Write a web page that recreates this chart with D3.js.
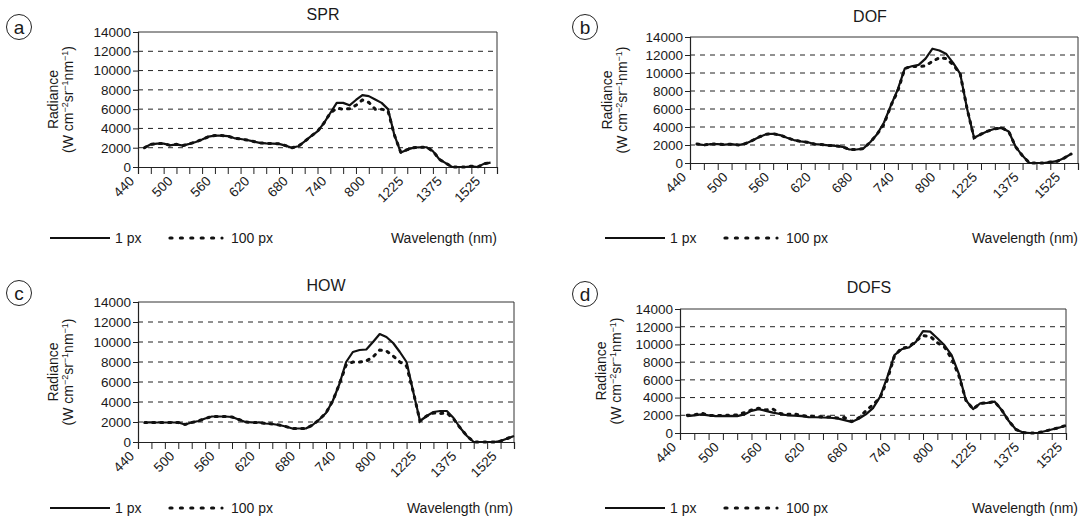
<!DOCTYPE html>
<html><head><meta charset="utf-8">
<script src="https://cdn.jsdelivr.net/npm/d3@7"></script>
<style>
body{margin:0;background:#fff}
text{font-family:"Liberation Sans",Arial,Helvetica,sans-serif;fill:#1a1a1a}
</style>
</head><body>
<svg id="chart" width="1088" height="521"></svg>
<script>
// ---- data ----
const categories = [440,460,480,500,520,540,560,580,600,620,640,660,680,700,720,740,760,780,800,1125,1175,1225,1275,1325,1375,1425,1475,1525,1575];
const labelEvery = 3;
const yTicks = [0,2000,4000,6000,8000,10000,12000,14000];
// sample positions along the category axis (half-category steps)
const samplePos = d3.range(0.5, 28.01, 0.5);

const sprSolid = [2000,2350,2430,2430,2250,2350,2220,2400,2600,2850,3150,3260,3260,3200,3000,2900,2800,2650,2500,2450,2430,2400,2220,2000,2150,2650,3200,3700,4550,5600,6650,6650,6400,6950,7450,7350,7000,6650,6000,3300,1500,1800,2000,2050,2050,1650,800,400,0,0,0,80,0,350,450,null];
const sprDotted = [2000,2350,2430,2430,2250,2350,2220,2400,2600,2850,3150,3260,3260,3200,3000,2900,2800,2650,2500,2450,2430,2400,2220,2000,2150,2650,3200,3700,4550,5600,6100,6000,6050,6400,6950,6700,6000,6000,5800,3300,1500,1800,2000,2050,2050,1650,800,400,0,0,0,80,0,350,450,null];

const dofSolid = [2100,2000,2100,2100,2050,2100,2000,2150,2500,2900,3200,3250,3100,2800,2550,2400,2300,2100,2050,1950,1900,1800,1500,1500,1600,2300,3200,4500,6400,8200,10500,10750,10900,11600,12700,12500,12100,11100,9900,6000,2800,3200,3550,3800,3900,3500,1800,800,0,0,0,100,200,550,1000,null];
const dofDotted = [2100,2000,2100,2100,2050,2100,2000,2150,2500,2900,3200,3250,3100,2800,2550,2400,2300,2100,2050,1950,1900,1800,1500,1500,1600,2300,3200,4300,6400,8000,10500,10750,10700,10800,11300,11700,11600,10900,9900,6000,2800,3200,3550,3800,3900,3500,1800,800,0,0,0,100,200,550,1000,null];

const howSolid = [1950,1950,1950,1950,1950,1950,1750,1950,2100,2350,2550,2550,2550,2500,2250,2000,1950,1950,1850,1800,1700,1550,1350,1350,1350,1700,2250,2900,4100,5800,8000,9000,9200,9250,10000,10800,10500,9900,9000,8000,5000,2100,2600,3000,3100,3100,2400,1400,600,0,0,0,0,100,350,600];
const howDotted = [1950,1950,1950,1950,1950,1950,1750,1950,2100,2350,2550,2550,2550,2500,2250,2000,1950,1950,1850,1800,1700,1550,1350,1350,1350,1700,2250,2900,4100,5800,7700,8000,8000,8100,8500,9200,9100,8600,8000,7600,5000,2100,2600,2900,2850,2900,2300,1400,600,0,0,0,0,100,350,600];

const dofsSolid = [1900,2000,2100,2000,1900,1900,1900,1900,2100,2500,2700,2500,2300,2150,2000,1950,1900,1800,1780,1750,1720,1650,1450,1250,1600,2100,2800,4100,6300,8800,9450,9650,10300,11500,11450,10700,9900,8800,6700,3700,2700,3350,3400,3550,2600,1350,400,50,0,0,200,400,600,850,null,null];
const dofsDotted = [2000,2050,2250,2000,1950,2000,2000,2050,2300,2600,2800,2600,2700,2200,2100,2150,1950,1900,1850,1800,1800,1700,1750,1300,1700,2500,3200,4000,6000,8700,9600,9700,10400,11000,10900,10200,9700,8400,6500,3700,2700,3350,3400,3550,2600,1350,400,50,0,0,200,400,600,850,null,null];

// ---- layout ----
const panels = [
  {title:"SPR", letter:"a", left:138, right:497, top:32, bottom:167, slots:28, titleX:323, titleY:20, cx:19, cy:27, legendX:50, legendY:238, legendRight:497, yt1:80, yt2:65, solid:sprSolid, dotted:sprDotted},
  {title:"DOF", letter:"b", left:690, right:1078, top:37, bottom:163, slots:28, titleX:870, titleY:22, cx:585, cy:27, legendX:605, legendY:238, legendRight:1078, yt1:78, yt2:63, solid:dofSolid, dotted:dofDotted},
  {title:"HOW", letter:"c", left:138, right:514, top:302, bottom:442, slots:28, titleX:326, titleY:291, cx:19, cy:293, legendX:50, legendY:508, legendRight:513, yt1:80, yt2:65, solid:howSolid, dotted:howDotted},
  {title:"DOFS", letter:"d", left:680, right:1066, top:309, bottom:433, slots:27, titleX:869, titleY:293, cx:585, cy:294, legendX:605, legendY:508, legendRight:1078, yt1:74, yt2:59, solid:dofsSolid, dotted:dofsDotted}
];

const svg = d3.select("#chart");

panels.forEach(p => {
  const g = svg.append("g");
  const x = d3.scaleLinear().domain([0, p.slots]).range([p.left, p.right]);
  const y = d3.scaleLinear().domain([0, 14000]).range([p.bottom, p.top]);

  // gridlines
  g.append("g").selectAll("line").data(yTicks.filter(v => v > 0 && v < 14000)).join("line")
    .attr("x1", p.left).attr("x2", p.right)
    .attr("y1", d => y(d)).attr("y2", d => y(d))
    .attr("stroke", "#222").attr("stroke-width", 1).attr("stroke-dasharray", "5,5");

  // plot border (top & right)
  g.append("path")
    .attr("d", `M${p.left},${y(14000)}H${p.right}V${p.bottom}`)
    .attr("fill", "none").attr("stroke", "#333").attr("stroke-width", 1);

  // y axis
  const yAxis = d3.axisLeft(y).tickValues(yTicks).tickSize(5).tickPadding(2).tickFormat(d3.format("d"));
  const ya = g.append("g").attr("transform", `translate(${p.left},0)`).call(yAxis);
  ya.select(".domain").attr("stroke", "#222").attr("stroke-width", 1.2);
  ya.selectAll(".tick line").attr("stroke", "#222");
  ya.selectAll("text").attr("font-size", "13.5px").attr("fill", "#1a1a1a")
    .attr("font-family", '"Liberation Sans",Arial,sans-serif');

  // x axis
  const idx = d3.range(0, p.slots + 1);
  const xAxis = d3.axisBottom(x).tickValues(idx).tickSize(7).tickFormat(() => "");
  const xa = g.append("g").attr("transform", `translate(0,${p.bottom})`).call(xAxis);
  xa.select(".domain").attr("stroke", "#222").attr("stroke-width", 1.2);
  xa.selectAll(".tick line").attr("stroke", "#222");
  g.append("g").selectAll("text")
    .data(idx.filter(i => i % labelEvery === 0 && i < categories.length))
    .join("text")
    .attr("transform", i => `translate(${x(i) - 3},${p.bottom + 15}) rotate(-45)`)
    .attr("text-anchor", "end")
    .attr("font-size", "13.5px")
    .text(i => categories[i]);

  // y axis title
  const ymid = (p.top + p.bottom) / 2;
  g.append("text")
    .attr("transform", `translate(${p.left - p.yt1},${ymid}) rotate(-90)`)
    .attr("text-anchor", "middle").attr("font-size", "14px")
    .text("Radiance");
  const t2 = g.append("text")
    .attr("transform", `translate(${p.left - p.yt2},${ymid}) rotate(-90)`)
    .attr("text-anchor", "middle").attr("font-size", "14px");
  t2.append("tspan").text("(W cm");
  t2.append("tspan").attr("font-size", "9px").attr("dy", -5).text("−2");
  t2.append("tspan").attr("dy", 5).text("sr");
  t2.append("tspan").attr("font-size", "9px").attr("dy", -5).text("−1");
  t2.append("tspan").attr("dy", 5).text("nm");
  t2.append("tspan").attr("font-size", "9px").attr("dy", -5).text("−1");
  t2.append("tspan").attr("dy", 5).text(")");

  // title
  g.append("text").attr("x", p.titleX).attr("y", p.titleY)
    .attr("text-anchor", "middle").attr("font-size", "16px").text(p.title);

  // panel letter
  g.append("circle").attr("cx", p.cx).attr("cy", p.cy).attr("r", 12.5)
    .attr("fill", "none").attr("stroke", "#222").attr("stroke-width", 1);
  g.append("text").attr("x", p.cx).attr("y", p.cy + 6.5)
    .attr("text-anchor", "middle").attr("font-size", "19px").text(p.letter);

  // series
  const line = d3.line()
    .defined(d => d[1] != null)
    .x(d => x(d[0])).y(d => y(d[1]))
    .curve(d3.curveLinear);
  const dottedData = samplePos.map((s, i) => [s, p.dotted[i]]);
  const solidData = samplePos.map((s, i) => [s, p.solid[i]]);
  g.append("path").datum(dottedData).attr("d", line)
    .attr("fill", "none").attr("stroke", "#111").attr("stroke-width", 3)
    .attr("stroke-linecap", "round").attr("stroke-dasharray", "2,6");
  g.append("path").datum(solidData).attr("d", line)
    .attr("fill", "none").attr("stroke", "#111").attr("stroke-width", 2.2)
    .attr("stroke-linejoin", "round");

  // legend
  const ly = p.legendY;
  g.append("line").attr("x1", p.legendX).attr("x2", p.legendX + 60).attr("y1", ly).attr("y2", ly)
    .attr("stroke", "#111").attr("stroke-width", 2.2);
  g.append("text").attr("x", p.legendX + 65).attr("y", ly + 5).attr("font-size", "14px").text("1 px");
  g.append("line").attr("x1", p.legendX + 120).attr("x2", p.legendX + 172).attr("y1", ly).attr("y2", ly)
    .attr("stroke", "#111").attr("stroke-width", 3.2).attr("stroke-linecap", "round").attr("stroke-dasharray", "2,8.4");
  g.append("text").attr("x", p.legendX + 181).attr("y", ly + 5).attr("font-size", "14px").text("100 px");
  g.append("text").attr("x", p.legendRight).attr("y", ly + 5).attr("text-anchor", "end")
    .attr("font-size", "14px").text("Wavelength (nm)");
});
</script>
</body></html>
